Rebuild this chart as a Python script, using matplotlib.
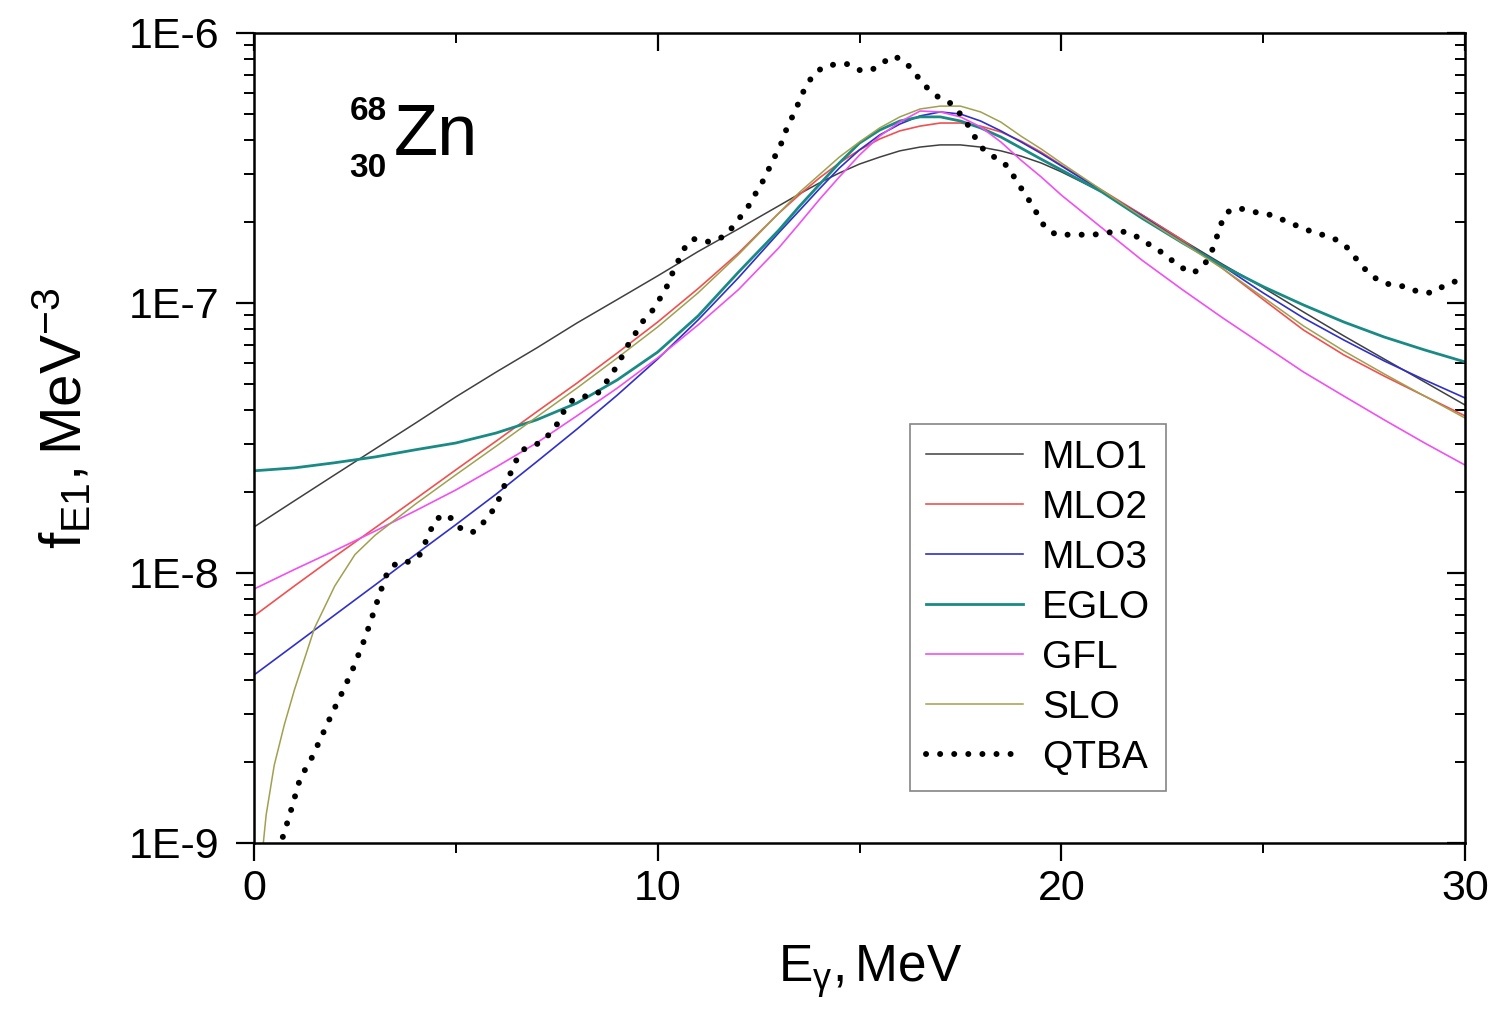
import matplotlib
matplotlib.use("Agg")
import matplotlib.pyplot as plt
from matplotlib.ticker import FixedLocator, NullFormatter, LogLocator

plt.rcParams['font.family'] = ['Liberation Sans', 'DejaVu Sans']
plt.rcParams['mathtext.fontset'] = 'custom'
plt.rcParams['mathtext.rm'] = 'Liberation Sans'
plt.rcParams['mathtext.it'] = 'Liberation Sans:italic'

# model curves, MeV (finer steps around the resonance peak)
energy = list(range(0, 14)) + [13.5, 14, 14.5, 15, 15.5, 16, 16.5, 17, 17.5, 18, 18.5, 19, 19.5, 20] \
    + list(range(21, 31))

mlo1 = [1.48e-8, 1.85e-8, 2.31e-8, 2.88e-8, 3.59e-8, 4.49e-8, 5.55e-8, 6.81e-8, 8.43e-8, 1.03e-7,
        1.26e-7, 1.55e-7, 1.88e-7, 2.29e-7,
        2.53e-7, 2.78e-7, 3.03e-7, 3.27e-7, 3.47e-7, 3.66e-7, 3.78e-7, 3.85e-7, 3.85e-7, 3.78e-7,
        3.66e-7, 3.50e-7, 3.30e-7, 3.06e-7,
        2.58e-7, 2.12e-7, 1.71e-7, 1.39e-7, 1.14e-7, 9.26e-8, 7.55e-8, 6.20e-8, 5.10e-8, 4.19e-8]
mlo2 = [6.93e-9, 8.95e-9, 1.15e-8, 1.47e-8, 1.88e-8, 2.41e-8, 3.08e-8, 3.95e-8, 5.05e-8, 6.53e-8,
        8.50e-8, 1.13e-7, 1.53e-7, 2.15e-7,
        2.51e-7, 2.90e-7, 3.30e-7, 3.69e-7, 4.05e-7, 4.34e-7, 4.52e-7, 4.64e-7, 4.64e-7, 4.52e-7,
        4.30e-7, 3.98e-7, 3.62e-7, 3.24e-7,
        2.62e-7, 2.12e-7, 1.71e-7, 1.34e-7, 1.03e-7, 7.94e-8, 6.42e-8, 5.36e-8, 4.52e-8, 3.82e-8]
mlo3 = [4.19e-9, 5.41e-9, 6.99e-9, 9.03e-9, 1.17e-8, 1.51e-8, 1.96e-8, 2.58e-8, 3.41e-8, 4.56e-8,
        6.20e-8, 8.65e-8, 1.24e-7, 1.82e-7,
        2.19e-7, 2.64e-7, 3.16e-7, 3.69e-7, 4.19e-7, 4.60e-7, 4.93e-7, 5.10e-7, 5.01e-7, 4.72e-7,
        4.34e-7, 3.95e-7, 3.58e-7, 3.22e-7,
        2.60e-7, 2.10e-7, 1.68e-7, 1.37e-7, 1.09e-7, 8.80e-8, 7.29e-8, 6.10e-8, 5.19e-8, 4.45e-8]
eglo = [2.39e-8, 2.45e-8, 2.56e-8, 2.69e-8, 2.86e-8, 3.03e-8, 3.30e-8, 3.69e-8, 4.26e-8, 5.19e-8,
        6.58e-8, 8.95e-8, 1.30e-7, 1.86e-7,
        2.27e-7, 2.74e-7, 3.30e-7, 3.91e-7, 4.37e-7, 4.72e-7, 4.89e-7, 4.89e-7, 4.72e-7, 4.45e-7,
        4.12e-7, 3.75e-7, 3.41e-7, 3.11e-7,
        2.58e-7, 2.06e-7, 1.67e-7, 1.37e-7, 1.15e-7, 9.83e-8, 8.50e-8, 7.48e-8, 6.70e-8, 6.05e-8]
gfl = [8.72e-9, 1.03e-8, 1.21e-8, 1.43e-8, 1.70e-8, 2.03e-8, 2.47e-8, 3.03e-8, 3.82e-8, 4.84e-8,
       6.26e-8, 8.29e-8, 1.12e-7, 1.60e-7,
       1.96e-7, 2.41e-7, 2.93e-7, 3.53e-7, 4.15e-7, 4.68e-7, 5.14e-7, 5.10e-7, 4.89e-7, 4.49e-7,
       3.95e-7, 3.38e-7, 2.93e-7, 2.51e-7,
       1.90e-7, 1.44e-7, 1.12e-7, 8.80e-8, 6.99e-8, 5.55e-8, 4.52e-8, 3.69e-8, 3.03e-8, 2.51e-8]

slo_energy = [0.2, 0.3, 0.5, 0.75, 1, 1.5, 2, 2.5, 3] + energy[4:]
slo = [9.03e-10, 1.27e-9, 1.94e-9, 2.74e-9, 3.69e-9, 6.26e-9, 8.95e-9, 1.17e-8, 1.38e-8,
       1.80e-8, 2.31e-8, 2.95e-8, 3.78e-8, 4.84e-8, 6.26e-8, 8.15e-8, 1.09e-7, 1.51e-7, 2.15e-7,
       2.56e-7, 2.98e-7, 3.47e-7, 3.95e-7, 4.45e-7, 4.89e-7, 5.23e-7, 5.36e-7, 5.36e-7, 5.10e-7,
       4.68e-7, 4.15e-7, 3.72e-7, 3.30e-7,
       2.62e-7, 2.08e-7, 1.67e-7, 1.34e-7, 1.05e-7, 8.22e-8, 6.64e-8, 5.46e-8, 4.52e-8, 3.75e-8]

qtba_energy = [0.60, 0.72, 0.89, 1.14, 1.44, 1.68, 1.93, 2.18, 2.43, 2.75,
               2.95, 3.12, 3.32, 3.57, 3.86, 4.11, 4.36, 4.48, 4.73, 4.98,
               5.15, 5.43, 5.67, 5.85, 6.02, 6.14, 6.27, 6.39, 6.51, 6.66,
               6.96, 7.16, 7.41, 7.58, 7.70, 7.90, 8.25, 8.50, 8.69, 8.89,
               9.02, 9.19, 9.31, 9.49, 9.64, 9.86, 10.0, 10.17, 10.30, 10.42,
               10.55, 10.67, 10.87, 11.17, 11.47, 11.72, 11.91, 12.11, 12.29, 12.43,
               12.58, 12.71, 12.83, 12.98, 13.10, 13.20, 13.32, 13.45, 13.55, 13.70,
               13.85, 14.10, 14.42, 14.71, 15.0, 15.3, 15.56, 15.85, 16.1, 16.32,
               16.5, 16.7, 16.95, 17.24, 17.46, 17.64, 17.79, 17.93, 18.1, 18.38,
               18.63, 18.8, 18.97, 19.15, 19.3, 19.45, 19.59, 19.87, 20.16, 20.5,
               20.8, 21.13, 21.45, 21.75, 22.02, 22.27, 22.52, 22.76, 22.99, 23.26,
               23.53, 23.68, 23.8, 23.88, 23.98, 24.08, 24.25, 24.5, 24.8, 25.09,
               25.37, 25.66, 25.96, 26.23, 26.58, 26.83, 27.07, 27.27, 27.47, 27.69,
               27.96, 28.26, 28.56, 28.83, 29.18, 29.45, 29.75, 30.0]
qtba = [9.4e-10, 1.06e-9, 1.28e-9, 1.73e-9, 2.08e-9, 2.49e-9, 3.01e-9, 3.60e-9, 4.34e-9, 5.74e-9,
        7.05e-9, 8.43e-9, 1.02e-8, 1.10e-8, 1.10e-8, 1.17e-8, 1.42e-8, 1.57e-8, 1.65e-8, 1.56e-8,
        1.44e-8, 1.42e-8, 1.53e-8, 1.65e-8, 1.80e-8, 2.01e-8, 2.21e-8, 2.40e-8, 2.64e-8, 2.86e-8,
        2.98e-8, 3.08e-8, 3.39e-8, 3.69e-8, 4.05e-8, 4.38e-8, 4.53e-8, 4.60e-8, 5.01e-8, 5.51e-8,
        6.00e-8, 6.59e-8, 7.23e-8, 7.87e-8, 8.57e-8, 9.33e-8, 1.01e-7, 1.10e-7, 1.22e-7, 1.35e-7,
        1.47e-7, 1.60e-7, 1.73e-7, 1.68e-7, 1.71e-7, 1.80e-7, 1.96e-7, 2.14e-7, 2.33e-7, 2.55e-7,
        2.78e-7, 3.03e-7, 3.33e-7, 3.66e-7, 4.02e-7, 4.45e-7, 4.84e-7, 5.32e-7, 5.84e-7, 6.42e-7,
        6.99e-7, 7.48e-7, 7.67e-7, 7.67e-7, 7.29e-7, 7.29e-7, 7.74e-7, 8.22e-7, 7.87e-7, 7.29e-7,
        6.70e-7, 6.21e-7, 5.79e-7, 5.51e-7, 5.09e-7, 4.68e-7, 4.30e-7, 3.94e-7, 3.66e-7, 3.44e-7,
        3.24e-7, 2.98e-7, 2.71e-7, 2.47e-7, 2.27e-7, 2.08e-7, 1.91e-7, 1.79e-7, 1.79e-7, 1.79e-7,
        1.79e-7, 1.82e-7, 1.85e-7, 1.80e-7, 1.71e-7, 1.61e-7, 1.53e-7, 1.43e-7, 1.35e-7, 1.29e-7,
        1.37e-7, 1.51e-7, 1.64e-7, 1.82e-7, 2.00e-7, 2.15e-7, 2.23e-7, 2.23e-7, 2.17e-7, 2.14e-7,
        2.07e-7, 1.98e-7, 1.90e-7, 1.83e-7, 1.77e-7, 1.71e-7, 1.61e-7, 1.48e-7, 1.36e-7, 1.26e-7,
        1.19e-7, 1.16e-7, 1.15e-7, 1.10e-7, 1.09e-7, 1.15e-7, 1.20e-7, 1.24e-7]

x_ticks = [0, 10, 20, 30]
y_ticks = [1e-9, 1e-8, 1e-7, 1e-6]
y_labels = ['1E-9', '1E-8', '1E-7', '1E-6']

fig = plt.figure(figsize=(14.97, 10.15), dpi=100)
ax = fig.add_axes([0.1697, 0.1695, 0.8089, 0.798])

ax.plot(energy, mlo1, color='#404040', lw=1.1, label='MLO1')
ax.plot(energy, mlo2, color='#f05050', lw=1.2, label='MLO2')
ax.plot(energy, mlo3, color='#3030c8', lw=1.2, label='MLO3')
ax.plot(energy, eglo, color='#1a8a84', lw=2.0, label='EGLO')
ax.plot(energy, gfl, color='#f050f0', lw=1.2, label='GFL')
ax.plot(slo_energy, slo, color='#a0a050', lw=1.1, label='SLO')
ax.plot(qtba_energy, qtba, color='black', lw=4.3, linestyle=(0, (0.01, 2.35)),
        dash_capstyle='round', label='QTBA')

ax.set_yscale('log')
ax.set_xlim(0, 30)
ax.set_ylim(1e-9, 1e-6)

ax.set_xticks(x_ticks)
ax.set_xticklabels([str(t) for t in x_ticks])
ax.xaxis.set_minor_locator(FixedLocator([5, 15, 25]))
ax.set_yticks(y_ticks)
ax.set_yticklabels(y_labels)
ax.yaxis.set_minor_locator(LogLocator(base=10, subs=range(2, 10)))
ax.yaxis.set_minor_formatter(NullFormatter())

for s in ax.spines.values():
    s.set_linewidth(1.8)

ax.tick_params(which='major', direction='out', length=13, width=1.6, labelsize=31, pad=6)
ax.tick_params(which='minor', direction='out', length=7, width=1.4)
ax.tick_params(axis='y', which='major', pad=12)

# mirrored ticks on top and right, pointing inward
top = ax.secondary_xaxis('top')
top.set_xticks(x_ticks)
top.xaxis.set_minor_locator(FixedLocator([5, 15, 25]))
top.tick_params(which='major', direction='in', length=13, width=1.6, labeltop=False)
top.tick_params(which='minor', direction='in', length=7, width=1.4)
right = ax.secondary_yaxis('right')
right.set_yticks(y_ticks)
right.yaxis.set_minor_locator(LogLocator(base=10, subs=range(2, 10)))
right.yaxis.set_minor_formatter(NullFormatter())
right.tick_params(which='major', direction='in', length=13, width=1.6, labelright=False)
right.tick_params(which='minor', direction='in', length=7, width=1.4)

ax.set_xlabel(r'$\mathregular{E_{γ}, MeV}$', fontsize=37)
ax.xaxis.set_label_coords(0.509, -0.124)
ax.set_ylabel(r'$\mathregular{f_{E1}, MeV^{-3}}$', fontsize=42)
ax.yaxis.set_label_coords(-0.132, 0.525)

ax.text(0.115, 0.849, 'Zn', transform=ax.transAxes, fontsize=52, ha='left', va='baseline')
ax.text(0.079, 0.893, '68', transform=ax.transAxes, fontsize=24, fontweight='bold',
        ha='left', va='baseline')
ax.text(0.079, 0.822, '30', transform=ax.transAxes, fontsize=24, fontweight='bold',
        ha='left', va='baseline')

leg = ax.legend(loc='upper left', bbox_to_anchor=(0.5417, 0.517), borderaxespad=0,
                fontsize=28, handlelength=2.5, handletextpad=0.5, labelspacing=0.36,
                borderpad=0.4, fancybox=False, frameon=True)
leg.get_frame().set_edgecolor('#666666')
leg.get_frame().set_linewidth(1.2)

fig.savefig('out.png', dpi=100)
